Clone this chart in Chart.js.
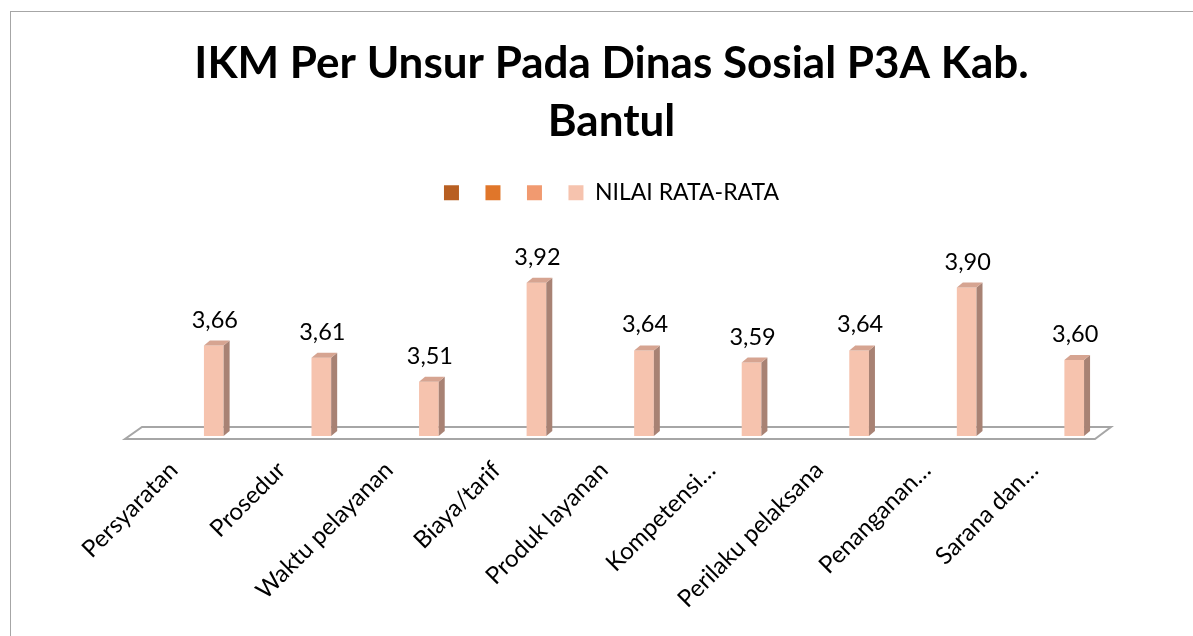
<!DOCTYPE html>
<html>
<head>
<meta charset="utf-8">
<script src="https://cdn.jsdelivr.net/npm/chart.js@4"></script>
<style>
  body { margin: 0; background: #fff; overflow: hidden; }
  .frame { position: absolute; left: 10px; top: 11px; width: 1400px; height: 800px; border: 1px solid #a6a6a6; }
  .wrap { position: absolute; left: 0; top: 0; }
</style>
</head>
<body>
<div class="frame"></div>
<div class="wrap"><canvas id="ikm" width="1193" height="636"></canvas></div>
<script>
// data kategori dan nilai
const unsur = ['Persyaratan', 'Prosedur', 'Waktu pelayanan', 'Biaya/tarif', 'Produk layanan',
    'Kompetensi…', 'Perilaku pelaksana', 'Penanganan…', 'Sarana dan…'];
const nilaiRataRata = [3.66, 3.61, 3.51, 3.92, 3.64, 3.59, 3.64, 3.90, 3.60];
const legendLabels = ['', '', '', 'NILAI RATA-RATA'];
const legendColors = ['#b85f22', '#e0762a', '#f19a70', '#f6c3ae'];

const barFront = '#f6c3ae';
const barSide = '#a88274';
const barTop = '#d6a491';

// lantai 3D di bawah batang
const floorPlugin = {
    id: 'floor3d',
    beforeDatasetsDraw(chart) {
        const { ctx } = chart;
        const { left, right, bottom } = chart.chartArea;
        ctx.save();
        ctx.beginPath();
        ctx.moveTo(left - 18, bottom - 9);
        ctx.lineTo(right - 17, bottom - 9);
        ctx.lineTo(right - 33, bottom + 3);
        ctx.lineTo(left - 35, bottom + 3);
        ctx.closePath();
        ctx.fillStyle = '#fff';
        ctx.fill();
        ctx.lineWidth = 2;
        ctx.strokeStyle = '#a6a6a6';
        ctx.stroke();
        ctx.restore();
    }
};

// sisi samping, atas dan label nilai
const bar3dPlugin = {
    id: 'bar3d',
    afterDatasetsDraw(chart) {
        const { ctx } = chart;
        const meta = chart.getDatasetMeta(0);
        const bottom = chart.chartArea.bottom;
        const dx = 6, dy = 5;
        ctx.save();
        meta.data.forEach((bar, i) => {
            const { x, y, width } = bar.getProps(['x', 'y', 'width'], true);
            const base = Math.min(bar.base, bottom);
            const l = x - width / 2, r = x + width / 2;
            ctx.fillStyle = barSide;
            ctx.beginPath();
            ctx.moveTo(r, y);
            ctx.lineTo(r + dx, y - dy);
            ctx.lineTo(r + dx, base - dy);
            ctx.lineTo(r, base);
            ctx.closePath();
            ctx.fill();
            ctx.fillStyle = barTop;
            ctx.beginPath();
            ctx.moveTo(l, y);
            ctx.lineTo(l + dx, y - dy);
            ctx.lineTo(r + dx, y - dy);
            ctx.lineTo(r, y);
            ctx.closePath();
            ctx.fill();

            ctx.fillStyle = '#000';
            ctx.font = '23.5px Lato';
            ctx.textAlign = 'center';
            ctx.textBaseline = 'alphabetic';
            ctx.fillText(nilaiRataRata[i].toFixed(2).replace('.', ','), x + 1, y - 18);
        });
        ctx.restore();
    }
};

new Chart(document.getElementById('ikm'), {
    type: 'bar',
    data: {
        labels: unsur,
        datasets: [{
            label: 'NILAI RATA-RATA',
            data: nilaiRataRata,
            backgroundColor: barFront,
            borderWidth: 0,
            barPercentage: 0.183,
            categoryPercentage: 1
        }]
    },
    options: {
        responsive: false,
        animation: false,
        layout: { padding: { left: 95, right: 65, top: 0, bottom: 0 } },
        scales: {
            x: {
                grid: { display: false, drawTicks: false },
                border: { display: false },
                ticks: {
                    autoSkip: false,
                    minRotation: 45,
                    maxRotation: 45,
                    labelOffset: -40,
                    padding: 20,
                    color: '#000',
                    font: { family: 'Lato', size: 24 }
                },
                afterFit: s => { s.height = 200; }
            },
            y: {
                min: 3.286,
                max: 4.204,
                grid: { display: false },
                border: { display: false },
                ticks: { display: false },
                afterFit: s => { s.width = 65; }
            }
        },
        plugins: {
            tooltip: { enabled: false },
            title: {
                display: true,
                text: ['IKM Per Unsur Pada Dinas Sosial P3A Kab.', 'Bantul'],
                color: '#000',
                font: { family: 'Lato', size: 44, weight: 'bold', lineHeight: 1.32 },
                padding: { top: 35, bottom: 15 }
            },
            legend: {
                labels: {
                    boxWidth: 15,
                    boxHeight: 15,
                    padding: 15,
                    color: '#000',
                    font: { family: 'Lato', size: 23 },
                    generateLabels: () => legendLabels.map((t, i) => ({
                        text: t,
                        fillStyle: legendColors[i],
                        strokeStyle: legendColors[i],
                        lineWidth: 0,
                        hidden: false,
                        datasetIndex: 0
                    }))
                }
            }
        }
    },
    plugins: [floorPlugin, bar3dPlugin]
});
</script>
</body>
</html>
